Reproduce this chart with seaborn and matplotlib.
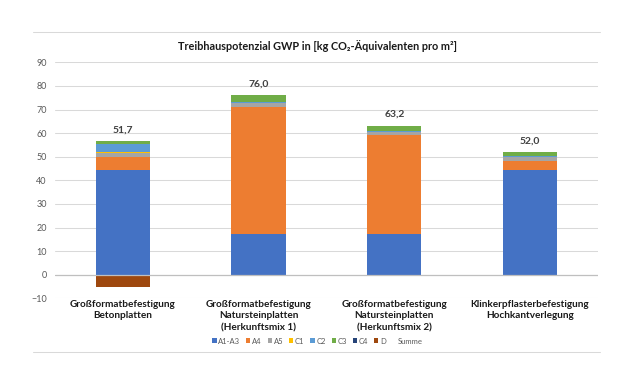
import seaborn as sns
from matplotlib import pyplot as plt
from matplotlib.lines import Line2D
from matplotlib.patches import Patch
import numpy as np

# data
categories = ['Großformatbefestigung\nBetonplatten',
              'Großformatbefestigung\nNatursteinplatten\n(Herkunftsmix 1)',
              'Großformatbefestigung\nNatursteinplatten\n(Herkunftsmix 2)',
              'Klinkerpflasterbefestigung\nHochkantverlegung']
a1_a3 = [44.5, 17.2, 17.2, 44.3]
a4 = [5.5, 53.8, 41.8, 3.7]
a5 = [1.5, 1.8, 1.5, 1.8]
c1 = [0.5, 0.1, 0.1, 0.1]
c2 = [3.2, 0.3, 0.3, 0.3]
c3 = [1.5, 2.8, 2.3, 1.8]
c4 = [0.0, 0.0, 0.0, 0.0]
d = [-5.0, 0.0, 0.0, 0.0]
summe = [51.7, 76.0, 63.2, 52.0]

stages = ['A1-A3', 'A4', 'A5', 'C1', 'C2', 'C3', 'C4', 'D']
series = [a1_a3, a4, a5, c1, c2, c3, c4, d]
colors = ['#4472C4', '#ED7D31', '#A5A5A5', '#FFC000',
          '#5B9BD5', '#70AD47', '#264478', '#9E480E']

sns.set_theme(style='white')
plt.rcParams['font.family'] = ['Lato', 'DejaVu Sans']

fig = plt.figure(figsize=(6.35, 3.86), dpi=100)
ax = fig.add_axes([0.0866, 0.2272, 0.855, 0.6114])

# stacked bars, positives on top of each other, D below zero
bottom = np.zeros(len(categories))
for name, vals, col in zip(stages, series, colors):
    vals = np.array(vals)
    if name == 'D':
        sns.barplot(x=categories, y=vals, color=col, width=0.4,
                    saturation=1, linewidth=0, edgecolor='none',
                    ax=ax, zorder=3)
    else:
        sns.barplot(x=categories, y=vals, bottom=bottom, color=col,
                    width=0.4, saturation=1, linewidth=0, edgecolor='none',
                    ax=ax, zorder=3)
        bottom = bottom + vals

for i, s in enumerate(summe):
    ax.text(i, bottom[i] + 4.7, f'{s:.1f}'.replace('.', ','),
            ha='center', va='center', fontsize=7.5, fontweight='bold',
            color='#404040')

ax.set_ylim(-10, 90)
ax.set_xlim(-0.5, 3.5)
ax.set_yticks(range(-10, 91, 10))
ax.yaxis.grid(True, color='#D9D9D9', linewidth=0.75)
ax.set_axisbelow(True)
ax.axhline(0, color='#BFBFBF', linewidth=0.9, zorder=4)
sns.despine(ax=ax, left=True, bottom=True)
ax.tick_params(axis='y', length=0, labelsize=6.5, labelcolor='#595959', pad=6)
ax.tick_params(axis='x', length=0, pad=1)
for lbl in ax.get_xticklabels():
    lbl.set_fontsize(7.2)
    lbl.set_fontweight('bold')
    lbl.set_color('#1a1a1a')
    lbl.set_linespacing(1.4)

fig.text(0.5, 1 - 46 / 386, 'Treibhauspotenzial GWP in [kg CO₂-Äquivalenten pro m²]',
         ha='center', va='center', fontsize=7.8, fontweight='bold', color='#1a1a1a')

handles = [Patch(facecolor=c, edgecolor='none') for c in colors]
handles.append(Patch(facecolor='none', edgecolor='none'))
fig.legend(handles, stages + ['Summe'], loc='center', ncol=9,
           bbox_to_anchor=(0.5, 1 - 341 / 386), frameon=False, fontsize=5.5,
           labelcolor='#595959', handlelength=0.55, handleheight=0.55,
           handletextpad=0.25, columnspacing=0.75)

# chart area border lines
for yy in (32, 352):
    fig.add_artist(Line2D([33 / 635, 600 / 635], [1 - yy / 386] * 2,
                          color='#D9D9D9', linewidth=0.75))

fig.savefig('out.png', dpi=100)
